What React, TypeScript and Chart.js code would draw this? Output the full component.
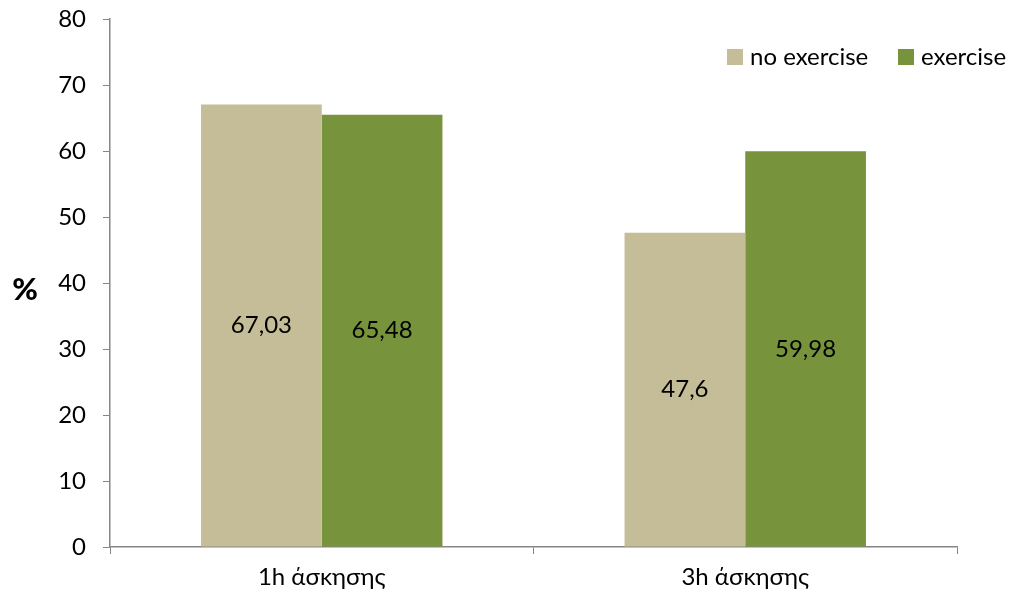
import React, { useEffect, useRef } from "react";
import { Chart, registerables } from "chart.js";

Chart.register(...registerables);

const categories = ["1h άσκησης", "3h άσκησης"];
const seriesNames = ["no exercise", "exercise"];
const noExercise = [67.03, 47.6];
const exercise = [65.48, 59.98];
const valueLabels = [["67,03", "47,6"], ["65,48", "59,98"]];
const colors = ["#C4BD97", "#77933C"];

const FONT = "Lato, 'Open Sans', sans-serif";
const AXIS = "#868686";
const FS = 24;

const overlay = {
  id: "overlay",
  afterDatasetsDraw(chart: any) {
    const ctx = chart.ctx;
    ctx.save();
    ctx.fillStyle = "#000";
    ctx.font = `${FS}px ${FONT}`;
    ctx.textAlign = "center";
    ctx.textBaseline = "middle";
    chart.data.datasets.forEach((ds: any, di: number) => {
      const meta = chart.getDatasetMeta(di);
      meta.data.forEach((bar: any, i: number) => {
        const y = (bar.y + bar.base) / 2;
        ctx.fillText(valueLabels[di][i], bar.x, y);
      });
    });
    // % title
    ctx.font = `900 31px ${FONT}`;
    ctx.textAlign = "center";
    ctx.fillText("%", 25, 290);
    // legend
    ctx.font = `${FS}px ${FONT}`;
    ctx.textAlign = "left";
    const items = [
      { x: 727, name: seriesNames[0], c: colors[0] },
      { x: 898, name: seriesNames[1], c: colors[1] },
    ];
    items.forEach((it) => {
      ctx.fillStyle = it.c;
      ctx.fillRect(it.x, 49, 16, 16);
      ctx.fillStyle = "#000";
      ctx.fillText(it.name, it.x + 23, 57);
    });
    ctx.restore();
  },
};

export default function App() {
  const ref = useRef<HTMLCanvasElement>(null);
  useEffect(() => {
    const chart = new Chart(ref.current as HTMLCanvasElement, {
      type: "bar",
      data: {
        labels: categories,
        datasets: [
          { label: seriesNames[0], data: noExercise, backgroundColor: colors[0] },
          { label: seriesNames[1], data: exercise, backgroundColor: colors[1] },
        ],
      },
      options: {
        animation: false,
        responsive: true,
        maintainAspectRatio: false,
        layout: { padding: { left: 10, right: 55, top: 19, bottom: 0 } },
        plugins: { legend: { display: false }, tooltip: { enabled: false } },
        datasets: { bar: { categoryPercentage: 0.57, barPercentage: 1 } } as any,
        scales: {
          x: {
            grid: { offset: true, drawOnChartArea: false, color: AXIS, tickLength: 7 },
            border: { color: AXIS, width: 1.5 },
            ticks: { color: "#000", font: { family: FONT, size: FS }, padding: 9 },
            afterFit: (s: any) => { s.height = 51; s.paddingLeft = 0; s.paddingRight = 0; },
          },
          y: {
            min: 0,
            max: 80,
            ticks: { stepSize: 10, color: "#000", font: { family: FONT, size: FS }, padding: 17 },
            grid: { drawOnChartArea: false, color: AXIS, tickLength: 7 },
            border: { color: AXIS, width: 1.5 },
            afterFit: (s: any) => { s.width = 100; s.paddingTop = 0; s.paddingBottom = 0; },
          },
        },
      },
      plugins: [overlay],
    });
    return () => chart.destroy();
  }, []);
  return (
    <div style={{ position: "fixed", left: 0, top: 0, width: 1012, height: 598, background: "#fff" }}>
      <canvas ref={ref} />
    </div>
  );
}
